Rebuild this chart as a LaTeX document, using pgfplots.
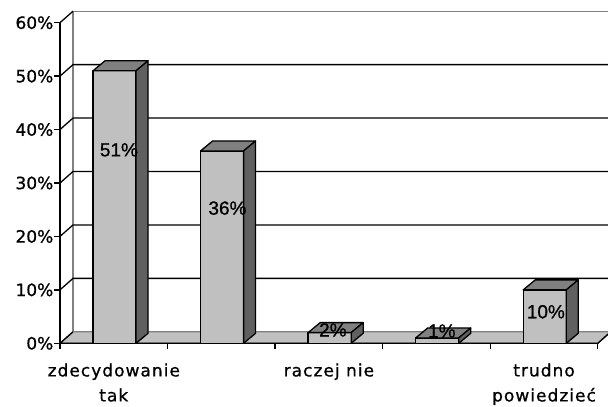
\documentclass[border=0pt]{standalone}
\usepackage{pgfplots}
\pgfplotsset{compat=1.18}
\usepackage{fontspec}
\setmainfont[FakeBold=0.8]{DejaVu Sans}
\newfontfamily\lblfont[FakeBold=0.8]{Liberation Sans}
\newfontfamily\xlblfont[FakeBold=0.8,LetterSpace=6]{DejaVu Sans}
\definecolor{barfront}{RGB}{192,192,192}
\definecolor{bartop}{RGB}{128,128,128}
\definecolor{barside}{RGB}{96,96,96}
\definecolor{floorc}{RGB}{192,192,192}
\definecolor{wallline}{RGB}{128,128,128}
\begin{document}
\begin{tikzpicture}[x=1pt,y=1pt]
\begin{axis}[
  scale only axis, width=537.8pt, height=320.6pt,
  xmin=0, xmax=5, ymin=0, ymax=60,
  clip=false,
  axis x line*=bottom, axis y line*=left,
  axis line style={black, line width=1.3pt},
  xtick={0,1,2,3,4,5}, xticklabels={,,,,,},
  ytick={0,10,20,30,40,50,60},
  yticklabel={\pgfmathprintnumber{\tick}\%},
  /pgf/number format/assume math mode=true,
  tick align=outside, major tick length=5.5pt,
  tick style={black, line width=1.3pt},
  ticklabel style={font=\fontsize{17}{25}\selectfont},
  yticklabel style={inner sep=1pt},
  extra x ticks={0.5,2.5,4.5},
  extra x tick labels={{zdecydowanie\\tak},{raczej nie},{trudno\\powiedzieć}},
  extra x tick style={major tick length=0pt, xticklabel style={font=\xlblfont\fontsize{17}{25}\selectfont, align=center, inner sep=0pt, yshift=-20pt, anchor=north}},
]
% walls
\draw[wallline, line width=1.3pt] (axis cs:0.1208,2.15) -- (axis cs:0.1208,62.15) -- (axis cs:5.2,62.15);
\draw[black, line width=1.3pt] (axis cs:0,10) -- (axis cs:0.1208,12.15) -- (axis cs:5.2,12.15);
\draw[black, line width=1.3pt] (axis cs:0,20) -- (axis cs:0.1208,22.15) -- (axis cs:5.2,22.15);
\draw[black, line width=1.3pt] (axis cs:0,30) -- (axis cs:0.1208,32.15) -- (axis cs:5.2,32.15);
\draw[black, line width=1.3pt] (axis cs:0,40) -- (axis cs:0.1208,42.15) -- (axis cs:5.2,42.15);
\draw[black, line width=1.3pt] (axis cs:0,50) -- (axis cs:0.1208,52.15) -- (axis cs:5.2,52.15);
\draw[black, line width=1.3pt] (axis cs:0,60) -- (axis cs:0.1208,62.15);
% floor
\filldraw[fill=floorc, draw=wallline, line width=1.3pt] (axis cs:0,0) -- (axis cs:5,0) -- (axis cs:5.12,2.15) -- (axis cs:5.2,2.15) -- (axis cs:0.1208,2.15) -- cycle;
\draw[black, line width=1.3pt] (axis cs:0.1208,2.15) -- (axis cs:0,0) -- (axis cs:5,0) -- (axis cs:5.12,2.15);

% bars: front, top, side
\addplot[fill=barfront, draw=black, line width=1.3pt, line join=round, forget plot] coordinates {(0.307,0) (0.707,0) (0.707,51) (0.307,51)} -- cycle;
\addplot[fill=bartop, draw=black, line width=1.3pt, line join=round, forget plot] coordinates {(0.307,51) (0.707,51) (0.8185,52.87) (0.4185,52.87)} -- cycle;
\addplot[fill=barside, draw=black, line width=1.3pt, line join=round, forget plot] coordinates {(0.707,0) (0.8185,1.87) (0.8185,52.87) (0.707,51)} -- cycle;

\addplot[fill=barfront, draw=black, line width=1.3pt, line join=round, forget plot] coordinates {(1.307,0) (1.707,0) (1.707,36) (1.307,36)} -- cycle;
\addplot[fill=bartop, draw=black, line width=1.3pt, line join=round, forget plot] coordinates {(1.307,36) (1.707,36) (1.8185,37.87) (1.4185,37.87)} -- cycle;
\addplot[fill=barside, draw=black, line width=1.3pt, line join=round, forget plot] coordinates {(1.707,0) (1.8185,1.87) (1.8185,37.87) (1.707,36)} -- cycle;

\addplot[fill=barfront, draw=black, line width=1.3pt, line join=round, forget plot] coordinates {(2.307,0) (2.707,0) (2.707,2) (2.307,2)} -- cycle;
\addplot[fill=bartop, draw=black, line width=1.3pt, line join=round, forget plot] coordinates {(2.307,2) (2.707,2) (2.8185,3.87) (2.4185,3.87)} -- cycle;
\addplot[fill=barside, draw=black, line width=1.3pt, line join=round, forget plot] coordinates {(2.707,0) (2.8185,1.87) (2.8185,3.87) (2.707,2)} -- cycle;

\addplot[fill=barfront, draw=black, line width=1.3pt, line join=round, forget plot] coordinates {(3.307,0) (3.707,0) (3.707,1) (3.307,1)} -- cycle;
\addplot[fill=bartop, draw=black, line width=1.3pt, line join=round, forget plot] coordinates {(3.307,1) (3.707,1) (3.8185,2.87) (3.4185,2.87)} -- cycle;
\addplot[fill=barside, draw=black, line width=1.3pt, line join=round, forget plot] coordinates {(3.707,0) (3.8185,1.87) (3.8185,2.87) (3.707,1)} -- cycle;

\addplot[fill=barfront, draw=black, line width=1.3pt, line join=round, forget plot] coordinates {(4.307,0) (4.707,0) (4.707,10) (4.307,10)} -- cycle;
\addplot[fill=bartop, draw=black, line width=1.3pt, line join=round, forget plot] coordinates {(4.307,10) (4.707,10) (4.8185,11.87) (4.4185,11.87)} -- cycle;
\addplot[fill=barside, draw=black, line width=1.3pt, line join=round, forget plot] coordinates {(4.707,0) (4.8185,1.87) (4.8185,11.87) (4.707,10)} -- cycle;

% data labels
\node[font=\lblfont\fontsize{19}{21}\selectfont, inner sep=0pt] at (axis cs:0.548,36.2) {51\%};
\node[font=\lblfont\fontsize{19}{21}\selectfont, inner sep=0pt] at (axis cs:1.557,25.3) {36\%};
\node[font=\lblfont\fontsize{19}{21}\selectfont, inner sep=0pt] at (axis cs:2.537,2.5) {2\%};
\node[font=\lblfont\fontsize{19}{21}\selectfont, inner sep=0pt] at (axis cs:3.55,2.3) {1\%};
\node[font=\lblfont\fontsize{19}{21}\selectfont, inner sep=0pt] at (axis cs:4.517,5.9) {10\%};
\end{axis}
\pgfresetboundingbox
\path[use as bounding box] (-60pt,-63.7pt) rectangle (548pt,343.3pt);
\end{tikzpicture}
\end{document}
